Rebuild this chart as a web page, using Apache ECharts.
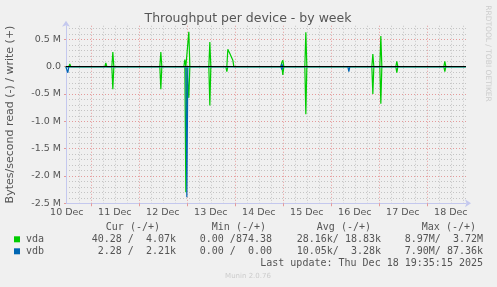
<!DOCTYPE html>
<html><head><meta charset="utf-8">
<script src="https://cdn.jsdelivr.net/npm/echarts@6/dist/echarts.min.js"></script>
<style>html,body{margin:0;padding:0;background:#f0f0f0;}#c{width:497px;height:287px;}</style>
</head><body><div id="c"></div>
<script>
// x values: hours since 10 Dec 00:00; y values: bytes/second
const xMin = 11.583, xMax = 211.583;
const dayLabels = ['10 Dec','11 Dec','12 Dec','13 Dec','14 Dec','15 Dec','16 Dec','17 Dec','18 Dec'];
const dayLabelHours = [12,36,60,84,108,132,156,180,204];
const midnightHours = [24,48,72,96,120,144,168,192];
const yTickValues = [-2.5e6,-2e6,-1.5e6,-1e6,-0.5e6,0,0.5e6];
const yTickLabels = ['-2.5 M','-2.0 M','-1.5 M','-1.0 M','-0.5 M','0.0','0.5 M'];

const vdaWrite = [[11.5,0],[13.0,0],[13.5,0.05e6],[14.0,0],[31.0,0],[31.5,0.07e6],[32.0,0],[34.5,0],[35.0,0.27e6],[35.5,0],[58.5,0],[59.0,0.27e6],[59.5,0],[70.5,0],[71.0,0.13e6],[71.5,0],[72.5,0],[73.0,0.64e6],[73.5,0],[83.0,0],[83.5,0.45e6],[84.0,0],[92.0,0],[92.5,0.32e6],[93.0,0.28e6],[93.5,0.24e6],[94.0,0.2e6],[94.5,0.16e6],[95.0,0.12e6],[95.5,0],[119.0,0],[119.5,0.08e6],[120.0,0.12e6],[120.5,0],[131.0,0],[131.5,0.63e6],[132.0,0],[164.5,0],[165.0,0.23e6],[165.5,0],[168.5,0],[169.0,0.56e6],[169.5,0],[176.5,0],[177.0,0.1e6],[177.5,0],[200.5,0],[201.0,0.1e6],[201.5,0],[211.5,0]];
const vdaRead = [[11.5,0],[12.0,0],[12.5,0.02e6],[13.0,0],[27.0,0],[27.5,0.03e6],[28.0,0],[31.5,0],[32.0,0.02e6],[32.5,0],[34.5,0],[35.0,0.41e6],[35.5,0],[50.5,0],[51.0,0.03e6],[51.5,0],[58.5,0],[59.0,0.41e6],[59.5,0],[71.0,0],[71.5,2.30e6],[72.0,0],[72.5,0],[73.0,0.57e6],[73.5,0],[80.0,0],[80.5,0.02e6],[81.0,0],[83.0,0],[83.5,0.71e6],[84.0,0],[91.5,0],[92.0,0.09e6],[92.5,0],[119.5,0],[120.0,0.15e6],[120.5,0],[123.5,0],[124.0,0.03e6],[124.5,0],[131.0,0],[131.5,0.87e6],[132.0,0],[134.0,0],[134.5,0.03e6],[135.0,0],[137.0,0],[137.5,0.02e6],[138.0,0],[164.5,0],[165.0,0.5e6],[165.5,0],[168.5,0],[169.0,0.68e6],[169.5,0],[176.5,0],[177.0,0.11e6],[177.5,0],[200.5,0],[201.0,0.09e6],[201.5,0],[211.5,0]];
const vdbWrite = [[11.5,0],[21.0,0],[21.5,0.02e6],[22.0,0],[41.0,0],[41.5,0.02e6],[42.0,0],[119.0,0],[119.5,0.05e6],[120.0,0],[141.0,0],[141.5,0.03e6],[142.0,0],[164.0,0],[164.5,0.02e6],[165.0,0],[167.5,0],[168.0,0.03e6],[168.5,0],[169.0,0],[169.5,0.02e6],[170.0,0],[178.0,0],[178.5,0.02e6],[179.0,0],[189.5,0],[190.0,0.03e6],[190.5,0],[192.0,0],[192.5,0.02e6],[193.0,0],[206.5,0],[207.0,0.02e6],[207.5,0],[211.5,0]];
const vdbRead = [[11.5,0],[12.0,0],[12.5,0.11e6],[13.0,0],[16.5,0],[17.0,0.01e6],[17.5,0],[21.0,0],[21.5,0.02e6],[22.0,0],[29.5,0],[30.0,0.01e6],[30.5,0],[41.0,0],[41.5,0.01e6],[42.0,0],[45.5,0],[46.0,0.01e6],[46.5,0],[71.5,0],[72.0,2.39e6],[72.5,0],[107.0,0],[107.5,0.02e6],[108.0,0],[119.0,0],[119.5,0.05e6],[120.0,0],[126.5,0],[127.0,0.02e6],[127.5,0],[152.5,0],[153.0,0.09e6],[153.5,0],[164.0,0],[164.5,0.02e6],[165.0,0],[168.0,0],[168.5,0.02e6],[169.0,0],[178.0,0],[178.5,0.02e6],[179.0,0],[189.5,0],[190.0,0.03e6],[190.5,0],[206.5,0],[207.0,0.02e6],[207.5,0],[211.5,0]];

const legendHeader = ['Cur (-/+)','Min (-/+)','Avg (-/+)','Max (-/+)'];
const vdaStats = ['40.28 /  4.07k','0.00 /874.38','28.16k/ 18.83k','8.97M/  3.72M'];
const vdbStats = ['2.28 /  2.21k','0.00 /  0.00','10.05k/  3.28k','7.90M/ 87.36k'];
const lastUpdate = 'Last update: Thu Dec 18 19:35:15 2025';

const GREEN = '#00cc00', BLUE = '#0066b3';
const MAJOR = '#e49a9a', MINOR = '#c4c4c4', AXIS = '#c4c8ee', TXT = '#555';

const minorX = [];
for (let h = 18; h < xMax; h += 6) if (h % 24 !== 0) minorX.push(h);
const minorY = [];
for (let i = -24; i <= 7; i++) if (i % 5 !== 0) minorY.push(i * 1e5);

const neg = arr => arr.map(p => [p[0], -p[1]]);

const chart = echarts.init(document.getElementById('c'), null, {renderer: 'canvas'});
const mono = '"DejaVu Sans Mono", monospace';
const sans = '"DejaVu Sans", sans-serif';

const graphics = [];
graphics.push({type:'text', x:248, y:19, style:{text:'Throughput per device - by week', font:'12.5px '+sans, fill:'#555', align:'center', verticalAlign:'middle'}});
graphics.push({type:'text', x:10.5, y:114.5, rotation:Math.PI/2, style:{text:'Bytes/second read (-) / write (+)', font:'11px '+sans, fill:TXT, align:'center', verticalAlign:'middle'}});
graphics.push({type:'text', x:487.5, y:53.5, rotation:-Math.PI/2, style:{text:'RRDTOOL / TOBI OETIKER', font:'7.5px '+sans, fill:'#cccccc', align:'center', verticalAlign:'middle'}});
const headerRight = [160, 266, 371, 476];
const statRight = [176, 272, 381, 483];
legendHeader.forEach((t,i)=>graphics.push({type:'text', x:headerRight[i], y:227.3, style:{text:t, font:'10px '+mono, fill:TXT, align:'right', verticalAlign:'middle'}}));
[[vdaStats,'vda',GREEN,239.3],[vdbStats,'vdb',BLUE,251.3]].forEach(([stats,name,col,y])=>{
  graphics.push({type:'rect', shape:{x:14, y:y-3, width:6, height:6}, style:{fill:col}});
  graphics.push({type:'text', x:26, y:y, style:{text:name, font:'10px '+mono, fill:TXT, align:'left', verticalAlign:'middle'}});
  stats.forEach((t,i)=>graphics.push({type:'text', x:statRight[i], y:y, style:{text:t, font:'10px '+mono, fill:TXT, align:'right', verticalAlign:'middle'}}));
});
graphics.push({type:'text', x:483, y:263.3, style:{text:lastUpdate, font:'10px '+mono, fill:TXT, align:'right', verticalAlign:'middle'}});
graphics.push({type:'text', x:248, y:276, style:{text:'Munin 2.0.76', font:'7px '+sans, fill:'#cccccc', align:'center', verticalAlign:'middle'}});

const lineSeries = (name, data, color, extra) => Object.assign({
  name, type:'line', data, showSymbol:false, symbol:'none', animation:false,
  lineStyle:{width:1.2, color}, itemStyle:{color}, clip:true
}, extra||{});

chart.setOption({
  backgroundColor:'#f0f0f0',
  animation:false,
  grid:{left:66, top:25.75, width:400, height:177.5, containLabel:false},
  xAxis:[
    {type:'value', position:'bottom', min:xMin, max:xMax, gridIndex:0, z:1,
     axisLine:{show:false, onZero:false},
     axisTick:{show:true, length:0, customValues:minorX, lineStyle:{color:'rgba(0,0,0,0)'}},
     axisLabel:{show:false},
     splitLine:{show:true, lineStyle:{color:MINOR, width:1, type:[1,2]}}},
    {type:'value', position:'bottom', min:xMin, max:xMax, gridIndex:0, z:2,
     axisLine:{show:true, onZero:false, lineStyle:{color:AXIS, width:1}, symbol:['none','arrow'], symbolSize:[6,6], symbolOffset:[0,5]},
     axisTick:{show:true, length:3, customValues:midnightHours, lineStyle:{color:MAJOR}},
     axisLabel:{show:true, customValues:dayLabelHours, margin:4, color:TXT, fontFamily:'DejaVu Sans', fontSize:9.5,
       formatter:v=>{const i=dayLabelHours.indexOf(Math.round(v)); return i>=0?dayLabels[i]:'';}},
     splitLine:{show:true, lineStyle:{color:MAJOR, width:1, type:[1,2]}}}
  ],
  yAxis:[
    {type:'value', position:'left', min:-2.5e6, max:0.75e6, gridIndex:0, z:1,
     axisLine:{show:false, onZero:false},
     axisTick:{show:true, length:0, customValues:minorY, lineStyle:{color:'rgba(0,0,0,0)'}},
     axisLabel:{show:false},
     splitLine:{show:true, lineStyle:{color:MINOR, width:1, type:[1,2]}}},
    {type:'value', position:'left', min:-2.5e6, max:0.75e6, gridIndex:0, z:2,
     axisLine:{show:true, onZero:false, lineStyle:{color:AXIS, width:1}, symbol:['none','arrow'], symbolSize:[6,6], symbolOffset:[0,5]},
     axisTick:{show:true, length:2, customValues:yTickValues, lineStyle:{color:MAJOR}},
     axisLabel:{show:true, customValues:yTickValues, margin:5, color:TXT, fontFamily:'DejaVu Sans', fontSize:9.5,
       formatter:v=>{const i=yTickValues.findIndex(t=>Math.abs(t-v)<1); return i>=0?yTickLabels[i]:'';}},
     splitLine:{show:true, lineStyle:{color:MAJOR, width:1, type:[1,2]}}}
  ],
  series:[
    lineSeries('vda write', vdaWrite, GREEN, {xAxisIndex:1, yAxisIndex:1,
      markLine:{silent:true, symbol:['none','none'], label:{show:false}, animation:false,
        lineStyle:{color:'#000', width:1, type:'solid'}, data:[{yAxis:0}]}}),
    lineSeries('vda read', neg(vdaRead), GREEN, {xAxisIndex:1, yAxisIndex:1}),
    lineSeries('vdb write', vdbWrite, BLUE, {xAxisIndex:1, yAxisIndex:1}),
    lineSeries('vdb read', neg(vdbRead), BLUE, {xAxisIndex:1, yAxisIndex:1})
  ],
  graphic:graphics
});
</script></body></html>
